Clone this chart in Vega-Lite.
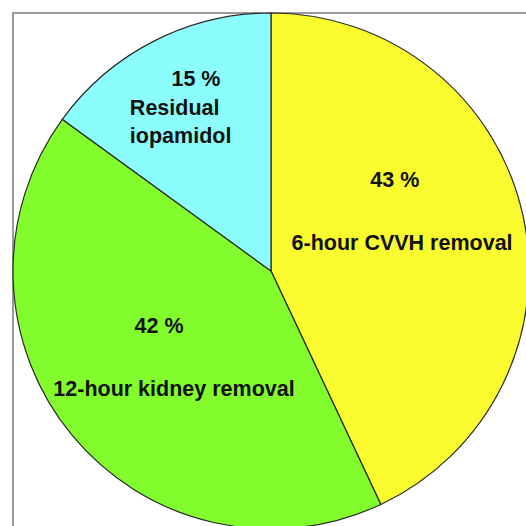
{
  "$schema": "https://vega.github.io/schema/vega-lite/v6.json",
  "width": 516,
  "height": 516,
  "padding": {"left": 10, "top": 10, "right": 0, "bottom": 0},
  "background": "white",
  "config": {"view": {"stroke": "#999999", "strokeWidth": 2}},
  "datasets": {
    "slices": [
      {"part": "6-hour CVVH removal", "pct": 43, "order": 1},
      {"part": "12-hour kidney removal", "pct": 42, "order": 2},
      {"part": "Residual iopamidol", "pct": 15, "order": 3}
    ],
    "labels": [
      {"text": "43 %", "lx": 0.48, "ly": 0.35, "anchor": "center"},
      {"text": "6-hour CVVH removal", "lx": 0.508, "ly": 0.105, "anchor": "center"},
      {"text": "15 %", "lx": -0.291, "ly": 0.74, "anchor": "center"},
      {"text": "Residual", "lx": -0.547, "ly": 0.628, "anchor": "left"},
      {"text": "iopamidol", "lx": -0.547, "ly": 0.519, "anchor": "left"},
      {"text": "42 %", "lx": -0.434, "ly": -0.217, "anchor": "center"},
      {"text": "12-hour kidney removal", "lx": -0.376, "ly": -0.461, "anchor": "center"}
    ]
  },
  "layer": [
    {
      "data": {"name": "slices"},
      "mark": {"type": "arc", "outerRadius": 258, "stroke": "#2a2a2a", "strokeWidth": 1.2},
      "encoding": {
        "theta": {"field": "pct", "type": "quantitative", "stack": true},
        "order": {"field": "order", "type": "quantitative"},
        "color": {
          "field": "part",
          "type": "nominal",
          "scale": {
            "domain": ["6-hour CVVH removal", "12-hour kidney removal", "Residual iopamidol"],
            "range": ["#FAFB2F", "#82FC2D", "#8BFDFC"]
          },
          "legend": null
        }
      }
    },
    {
      "data": {"name": "labels"},
      "transform": [{"filter": "datum.anchor == 'center'"}],
      "mark": {"type": "text", "font": "Liberation Sans", "fontWeight": "bold", "fontSize": 21.5, "color": "#111111", "align": "center", "baseline": "middle"},
      "encoding": {
        "x": {"field": "lx", "type": "quantitative", "scale": {"domain": [-1, 1], "nice": false}, "axis": null},
        "y": {"field": "ly", "type": "quantitative", "scale": {"domain": [-1, 1], "nice": false}, "axis": null},
        "text": {"field": "text"}
      }
    },
    {
      "data": {"name": "labels"},
      "transform": [{"filter": "datum.anchor == 'left'"}],
      "mark": {"type": "text", "font": "Liberation Sans", "fontWeight": "bold", "fontSize": 21.5, "color": "#111111", "align": "left", "baseline": "middle"},
      "encoding": {
        "x": {"field": "lx", "type": "quantitative", "scale": {"domain": [-1, 1], "nice": false}, "axis": null},
        "y": {"field": "ly", "type": "quantitative", "scale": {"domain": [-1, 1], "nice": false}, "axis": null},
        "text": {"field": "text"}
      }
    }
  ]
}
